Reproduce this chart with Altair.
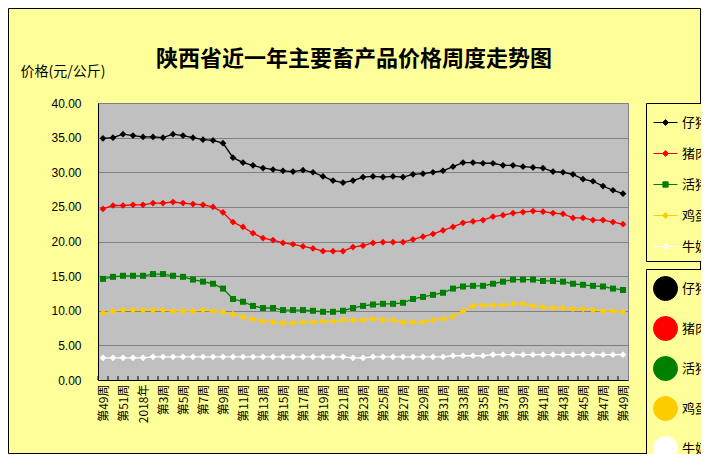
import altair as alt
import pandas as pd

weeks = ["第49周", "第50周", "第51周", "第52周", "2018年", "第2周", "第3周", "第4周",
         "第5周", "第6周", "第7周", "第8周", "第9周", "第10周", "第11周", "第12周",
         "第13周", "第14周", "第15周", "第16周", "第17周", "第18周", "第19周", "第20周",
         "第21周", "第22周", "第23周", "第24周", "第25周", "第26周", "第27周", "第28周",
         "第29周", "第30周", "第31周", "第32周", "第33周", "第34周", "第35周", "第36周",
         "第37周", "第38周", "第39周", "第40周", "第41周", "第42周", "第43周", "第44周",
         "第45周", "第46周", "第47周", "第48周", "第49周"]

series = ["仔猪", "猪肉", "活猪", "鸡蛋", "牛奶"]
colors = ["#000000", "#FF0000", "#008000", "#FFCC00", "#FFFFFF"]

piglet = [34.9, 35.0, 35.5, 35.3, 35.1, 35.1, 35.0, 35.5, 35.3, 35.0, 34.7, 34.6, 34.2,
          32.1, 31.4, 31.0, 30.6, 30.4, 30.2, 30.1, 30.3, 30.0, 29.4, 28.8, 28.5, 28.8,
          29.3, 29.4, 29.3, 29.4, 29.3, 29.7, 29.8, 30.0, 30.2, 30.8, 31.4, 31.4, 31.3,
          31.3, 31.0, 31.0, 30.8, 30.7, 30.6, 30.1, 30.0, 29.7, 29.0, 28.7, 28.0, 27.4, 26.9]
pork = [24.7, 25.2, 25.2, 25.3, 25.3, 25.55, 25.55, 25.7, 25.55, 25.4, 25.3, 25.0, 24.2,
        22.8, 22.1, 21.2, 20.5, 20.2, 19.8, 19.6, 19.3, 19.0, 18.6, 18.6, 18.6, 19.2,
        19.4, 19.8, 19.9, 19.9, 19.9, 20.3, 20.7, 21.1, 21.6, 22.1, 22.7, 22.9, 23.1,
        23.6, 23.8, 24.1, 24.25, 24.4, 24.3, 24.1, 24.0, 23.4, 23.4, 23.1, 23.1, 22.8, 22.5]
hog = [14.6, 14.9, 15.05, 15.05, 15.05, 15.3, 15.3, 15.05, 14.9, 14.5, 14.2, 13.9, 13.2,
       11.7, 11.3, 10.7, 10.4, 10.4, 10.1, 10.1, 10.1, 10.0, 9.85, 9.85, 10.0, 10.4,
       10.7, 10.9, 11.0, 11.0, 11.15, 11.7, 12.0, 12.3, 12.6, 13.2, 13.5, 13.6, 13.6,
       13.9, 14.2, 14.5, 14.5, 14.5, 14.3, 14.3, 14.2, 13.9, 13.75, 13.6, 13.5, 13.2, 13.0]
egg = [9.66, 9.95, 10.1, 10.1, 10.1, 10.1, 10.1, 9.95, 9.95, 9.95, 10.1, 9.95, 9.8,
       9.5, 9.1, 8.8, 8.5, 8.35, 8.2, 8.2, 8.35, 8.35, 8.5, 8.5, 8.65, 8.65,
       8.65, 8.8, 8.65, 8.65, 8.35, 8.35, 8.35, 8.65, 8.8, 9.2, 9.95, 10.7, 10.8,
       10.8, 10.8, 11.0, 11.0, 10.7, 10.5, 10.4, 10.4, 10.25, 10.25, 10.1, 9.95, 9.95, 9.8]
milk = [3.2, 3.2, 3.2, 3.2, 3.2, 3.35, 3.35, 3.35, 3.35, 3.35, 3.35, 3.35, 3.35,
        3.35, 3.35, 3.35, 3.35, 3.35, 3.35, 3.35, 3.35, 3.35, 3.35, 3.35, 3.35, 3.2,
        3.2, 3.35, 3.35, 3.35, 3.35, 3.35, 3.35, 3.35, 3.35, 3.5, 3.5, 3.5, 3.5,
        3.65, 3.65, 3.65, 3.65, 3.65, 3.65, 3.65, 3.65, 3.65, 3.65, 3.65, 3.65, 3.65, 3.65]

y_ticks = [0, 5, 10, 15, 20, 25, 30, 35, 40]

rows = []
for s, vals in zip(series, [piglet, pork, hog, egg, milk]):
    for i, v in enumerate(vals):
        rows.append({"idx": i, "series": s, "value": v})
df = pd.DataFrame(rows)

CJK = "Noto Sans CJK SC"
label_expr = "[" + ",".join("'" + w + "'" for w in weeks) + "][datum.value]"

x = alt.X("idx:O",
          scale=alt.Scale(type="point", padding=0.5),
          axis=alt.Axis(values=list(range(0, len(weeks), 2)), labelExpr=label_expr,
                        labelAngle=-90, labelFont=CJK, labelFontSize=12,
                        labelColor="black", labelPadding=4, ticks=False,
                        domainColor="black", domainWidth=1, title=None, grid=False,
                        labelOverlap=False))
y = alt.Y("value:Q",
          scale=alt.Scale(domain=[0, 40], nice=False),
          axis=alt.Axis(values=y_ticks, format=".2f", title="价格(元/公斤)",
                        titleAngle=0, titleAlign="left", titleBaseline="middle",
                        titleX=-78, titleY=-32, titleFont=CJK, titleFontSize=14,
                        titleFontWeight="normal", titleColor="black",
                        labelFont="Liberation Sans", labelFontSize=12,
                        labelColor="black", labelPadding=17, ticks=False,
                        domainColor="black", domainWidth=1,
                        gridColor="#808080", gridWidth=1))

legend_shapes = [
    "M-1,0H1M0,-0.24L0.24,0L0,0.24L-0.24,0Z",
    "M-1,0H1M0,-0.24L0.24,0L0,0.24L-0.24,0Z",
    "M-1,0H1M-0.22,-0.22H0.22V0.22H-0.22Z",
    "M-1,0H1M0,-0.24L0.24,0L0,0.24L-0.24,0Z",
    "M-1,0H1M0,-0.24L0.24,0L0,0.24L-0.24,0Z",
]
leg_main = alt.Legend(orient="none", legendX=534, legendY=29, title=None,
                      strokeColor="black", fillColor="#FFFF99", padding=7,
                      rowPadding=11, symbolSize=576, symbolStrokeWidth=1,
                      symbolType="M-1,0H1M0,-0.24L0.24,0L0,0.24L-0.24,0Z",
                      labelFont=CJK, labelFontSize=13, labelColor="black",
                      labelOffset=4)
leg_hidden = alt.Legend(orient="right", title=None,
                        strokeColor="black", fillColor="#FFFF99", padding=7,
                        rowPadding=11, symbolSize=576, symbolStrokeWidth=1,
                        labelFont=CJK, labelFontSize=13, labelColor="black",
                        labelOffset=4, symbolOpacity=1)

color_plain = alt.Color("series:N", scale=alt.Scale(domain=series, range=colors), legend=None)
color_leg = alt.Color("series:N", scale=alt.Scale(domain=series, range=colors), legend=leg_main)

lines = alt.Chart(df).mark_line(strokeWidth=1.3).encode(x=x, y=y, color=color_plain)
diamonds = alt.Chart(df).transform_filter(alt.datum.series != "活猪").mark_point(
    shape="diamond", filled=True, size=45, opacity=1).encode(x=x, y=y, color=color_leg)
squares = alt.Chart(df).transform_filter(alt.datum.series == "活猪").mark_point(
    shape="square", filled=True, size=36, opacity=1).encode(x=x, y=y, color=color_plain)
legend_layer = alt.Chart(df).mark_point(filled=True).encode(
    x=x, y=y,
    opacity=alt.value(0),
    fill=alt.Fill("series:N", scale=alt.Scale(domain=series, range=colors), legend=leg_hidden),
    stroke=alt.Stroke("series:N", scale=alt.Scale(domain=series, range=colors), legend=leg_hidden),
    shape=alt.Shape("series:N", scale=alt.Scale(domain=series, range=legend_shapes), legend=leg_hidden),
)
ticks = alt.Chart(df).transform_filter(alt.datum.series == "仔猪").mark_rule(
    color="black", strokeWidth=1, xOffset=-5).encode(
    x=x, y=alt.value(277), y2=alt.value(273))
frame = alt.Chart(pd.DataFrame({"k": [0]})).mark_rect(
    fillOpacity=0, stroke="black", strokeWidth=1).encode(
    x=alt.value(-89.5), x2=alt.value(602.5), y=alt.value(-94.5), y2=alt.value(350.5))

chart = alt.layer(frame, ticks, lines, diamonds, squares, legend_layer).properties(
    width=530, height=277,
    autosize=alt.AutoSizeParams(type="none"),
    padding={"left": 90, "top": 95, "right": 73, "bottom": 74},
    background="#FFFF99",
    title=alt.TitleParams("陕西省近一年主要畜产品价格周度走势图", font=CJK, fontSize=22,
                          fontWeight="bold", color="black", anchor="middle",
                          frame="group", dx=-9, dy=67),
).configure_view(fill="#C0C0C0", stroke="#808080", strokeWidth=1)

chart.save("out.html", embed_options={"renderer": "svg", "actions": False})
